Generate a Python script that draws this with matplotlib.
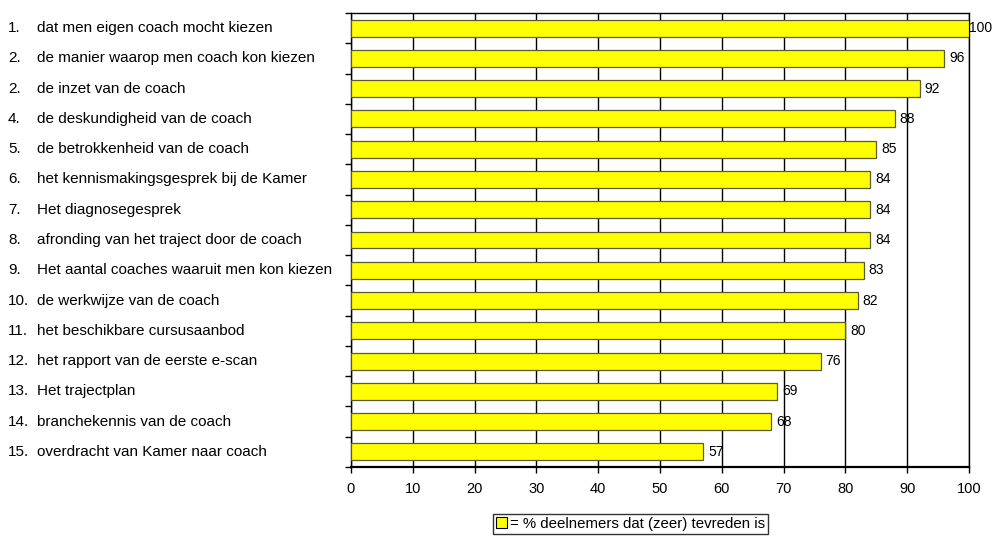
import matplotlib.pyplot as plt
import matplotlib.transforms as mtransforms
from matplotlib.patches import Patch

plt.rcParams['font.family'] = ['Liberation Sans', 'DejaVu Sans']

# data
ranks = ["1.", "2.", "2.", "4.", "5.", "6.", "7.", "8.", "9.", "10.",
         "11.", "12.", "13.", "14.", "15."]
labels = [
    "dat men eigen coach mocht kiezen",
    "de manier waarop men coach kon kiezen",
    "de inzet van de coach",
    "de deskundigheid van de coach",
    "de betrokkenheid van de coach",
    "het kennismakingsgesprek bij de Kamer",
    "Het diagnosegesprek",
    "afronding van het traject door de coach",
    "Het aantal coaches waaruit men kon kiezen",
    "de werkwijze van de coach",
    "het beschikbare cursusaanbod",
    "het rapport van de eerste e-scan",
    "Het trajectplan",
    "branchekennis van de coach",
    "overdracht van Kamer naar coach",
]
values = [100, 96, 92, 88, 85, 84, 84, 84, 83, 82, 80, 76, 69, 68, 57]
legend_label = "= % deelnemers dat (zeer) tevreden is"

fig = plt.figure(figsize=(9.92, 5.38), dpi=100)
ax = fig.add_axes([0.3538, 0.132, 0.623, 0.8438])

n = len(values)
ypos = list(range(n))

ax.barh(ypos, values, height=0.56, color='#ffff00', edgecolor='#5a5a2a',
        linewidth=0.9, zorder=3)

# value labels (the 100 label sits right on the frame like in the original)
for y, v in zip(ypos, values):
    off = 0.8 if v < 100 else 0.05
    ax.text(v + off, y, str(v), va='center', ha='left', fontsize=10, zorder=4,
            clip_on=False)

ax.set_xlim(0, 100)
ax.set_ylim(n - 0.5, -0.5)
ax.set_xticks(range(0, 101, 10))
ax.tick_params(axis='x', labelsize=10.5, length=4, width=1, direction='out', pad=7)
ax.xaxis.grid(True, color='black', linewidth=1, zorder=0)
ax.set_axisbelow(True)

# y ticks at the category boundaries, no labels
ax.set_yticks([i - 0.5 for i in range(n + 1)])
ax.set_yticklabels([])
ax.tick_params(axis='y', length=4, width=1, direction='out')

for s in ['top', 'right', 'left']:
    ax.spines[s].set_linewidth(1)
ax.spines['bottom'].set_linewidth(1.6)

# category labels on the left
trans = mtransforms.blended_transform_factory(fig.transFigure, ax.transData)
for y, r, lab in zip(ypos, ranks, labels):
    ax.text(0.008, y, r, transform=trans, va='center', ha='left', fontsize=11)
    ax.text(0.037, y, lab, transform=trans, va='center', ha='left', fontsize=11)

handle = Patch(facecolor='#ffff00', edgecolor='black', linewidth=0.8)
fig.legend([handle], [legend_label], loc='upper left', bbox_to_anchor=(0.497, 0.045),
           fontsize=10.8, frameon=True, fancybox=False, edgecolor='black',
           handlelength=0.75, handleheight=0.75, handletextpad=0.2,
           borderpad=0.2, borderaxespad=0)

fig.savefig("out.png", dpi=100)
